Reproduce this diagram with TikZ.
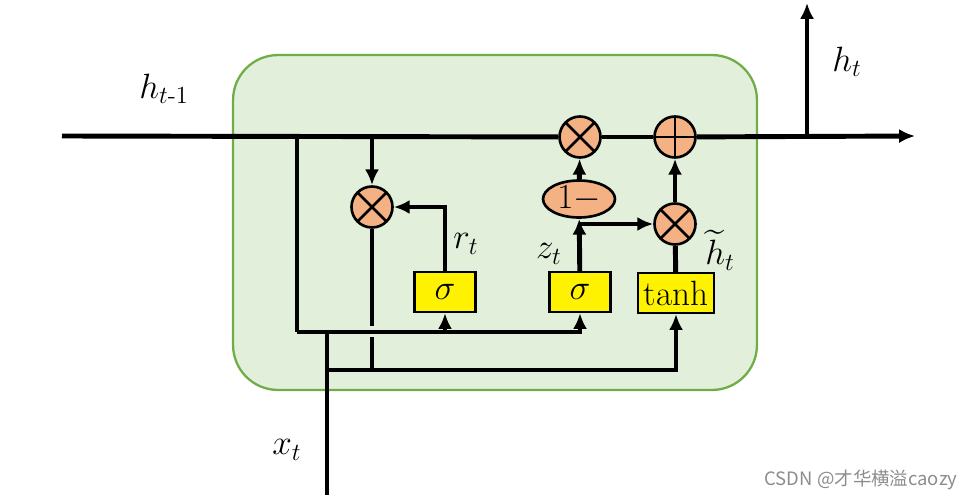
\RequirePackage{fix-cm}
\documentclass[tikz,border=0pt]{standalone}
\usepackage{amsmath}
\usepackage{exscale}
\usepackage{fontspec}
\newfontfamily\cjk{Noto Sans CJK SC}
\usetikzlibrary{arrows.meta,shapes.geometric}
\definecolor{cellfill}{HTML}{E2EFDA}
\definecolor{celledge}{HTML}{70AD47}
\definecolor{opfill}{HTML}{F4B183}
\begin{document}
\begin{tikzpicture}[x=0.02cm,y=-0.02cm,>={Latex[length=9pt,width=8pt]},
  font=\fontsize{20}{24}\selectfont,
  op/.style={draw,circle,fill=opfill,line width=1.5pt,minimum size=0.82cm,inner sep=0pt},
  mul/.style={op,path picture={\draw[line width=1.5pt] (path picture bounding box.north west) -- (path picture bounding box.south east) (path picture bounding box.north east) -- (path picture bounding box.south west);}},
  add/.style={op,path picture={\draw[line width=1.5pt] (path picture bounding box.north) -- (path picture bounding box.south) (path picture bounding box.east) -- (path picture bounding box.west);}},
  gate/.style={draw,fill=yellow,line width=1.3pt,minimum width=1.22cm,minimum height=0.8cm,inner sep=1pt},
  wire/.style={draw,line width=2.8pt}]
\useasboundingbox (0,0) rectangle (976,500);
\node[draw=celledge,fill=cellfill,line width=1.3pt,rounded corners=0.9cm,minimum width=10.48cm,minimum height=6.7cm] (cell) at (495,222.5) {};

% points on the wires
\coordinate (in) at (62,136);
\coordinate (out) at (915,136);
\coordinate (s1) at (297,136);
\coordinate (s2) at (372,136);
\coordinate (s3) at (807,136);
\coordinate (ht) at (807,3);
\coordinate (c1) at (297,332);
\coordinate (xin) at (327,495);
\coordinate (c3) at (327,370);
\coordinate (j1) at (372,326);
\coordinate (j2) at (372,337);
\coordinate (zb) at (580,224);

\node[mul] (mr) at (372,207) {};
\node[mul] (mz) at (580,137) {};
\node[add] (add) at (675,137) {};
\node[mul] (mh) at (675,224) {};
\node[draw, ellipse, fill=opfill, line width=1.5pt, minimum width=1.44cm, minimum height=0.74cm, inner sep=0pt] (one) at (579,199) {$1-$};
\node[gate] (sr) at (445,292) {$\sigma$};
\node[gate] (sz) at (580,292) {$\sigma$};
\node[gate, minimum width=1.52cm, inner sep=0.5pt] (th) at (676,293) {tanh};

\path[wire] (in) -- (mz);
\path[wire] (mz) -- (add);
\path[wire,->] (add) -- (out);
\path[wire,->] (s3) -- (ht);
\path[wire] (s1) -- (c1);
\path[wire,->] (c1) -| (sz);
\path[wire,->] (sr.south |- c1) -- (sr);
\path[wire] (xin) -- (xin |- c1);
\path[wire,->] (c3) -| (th);
\path[wire,->] (s2) -- (mr);
\path[wire,->] (sr) |- (mr);
\path[wire] (mr) -- (j1);
\path[wire] (j2) -- (j2 |- c3);
\path[wire,->] (sz) -- (one);
\path[wire,->] (one) -- (mz);
\path[wire,->] (zb) -- (mh);
\path[wire] (th) -- (mh);
\path[wire,->] (mh) -- (add);

\node (lhp) at (164,89) {$h_{t\text{-}1}$};
\node (lht) at (847,62) {$h_t$};
\node (lr) at (466,244) {$r_t$};
\node (lz) at (549,254) {$z_t$};
\node (lhc) at (720,250) {$\widetilde{h}_t$};
\node (lx) at (287,450) {$x_t$};
\node[text=black!45, font=\cjk\fontsize{10.5}{12}\selectfont] (mark) at (861,480) {CSDN @才华横溢caozy};
\end{tikzpicture}
\end{document}
